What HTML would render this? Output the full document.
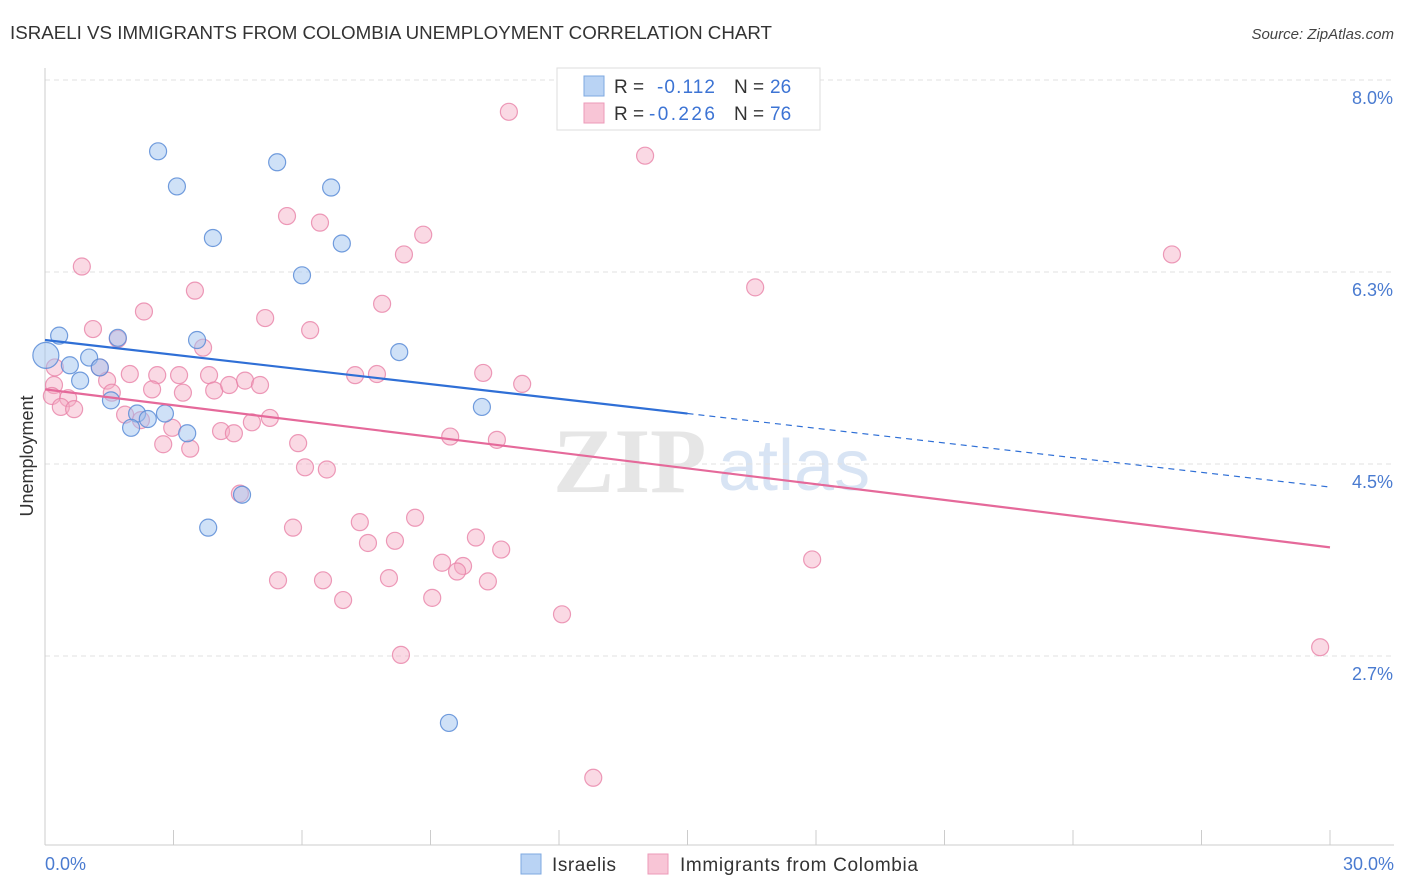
<!DOCTYPE html>
<html><head><meta charset="utf-8"><style>
body{margin:0;background:#fff;font-family:"Liberation Sans",sans-serif;}
svg{display:block}
</style></head><body>
<svg id="chart" width="1406" height="892" xmlns="http://www.w3.org/2000/svg">
<text x="10" y="39" font-size="18" fill="#333" textLength="762" lengthAdjust="spacingAndGlyphs">ISRAELI VS IMMIGRANTS FROM COLOMBIA UNEMPLOYMENT CORRELATION CHART</text>
<text x="1394" y="39" font-size="15" fill="#444" text-anchor="end" font-style="italic">Source: ZipAtlas.com</text>
<g><text x="553" y="492" font-size="92" fill="#e6e6e6" font-family="Liberation Serif,serif" font-weight="bold">ZIP</text><text x="718" y="490" font-size="72" fill="#d8e4f4">atlas</text></g>
<g id="grid"></g>
<line x1="45" y1="68" x2="45" y2="845" stroke="#ccc"/>
<line x1="45" y1="845" x2="1394" y2="845" stroke="#ccc"/>
<text transform="translate(33,456) rotate(-90)" font-size="18" fill="#333" text-anchor="middle">Unemployment</text>
<text x="45" y="870" font-size="18" fill="#4a7bd0">0.0%</text>
<text x="1394" y="870" font-size="18" fill="#4a7bd0" text-anchor="end">30.0%</text>
<g id="points"></g>
<g id="trends"></g>
<g>
<rect x="557" y="68" width="263" height="62" fill="#fff" stroke="#ddd"/>
<rect x="584" y="76" width="20" height="20" fill="#b9d3f4" stroke="#7ea8e0"/>
<text x="614" y="93" font-size="19" fill="#333">R = </text><text x="657" y="93" font-size="19" fill="#3d74d4" textLength="58">-0.112</text>
<text x="734" y="93" font-size="19" fill="#333">N = </text><text x="770" y="93" font-size="19" fill="#3d74d4">26</text>
<rect x="584" y="103" width="20" height="20" fill="#f8c5d6" stroke="#ec9ab8"/>
<text x="614" y="120" font-size="19" fill="#333">R = </text><text x="649" y="120" font-size="19" fill="#3d74d4" textLength="66">-0.226</text>
<text x="734" y="120" font-size="19" fill="#333">N = </text><text x="770" y="120" font-size="19" fill="#3d74d4">76</text>
</g>
<g>
<rect x="521" y="854" width="20" height="20" fill="#b9d3f4" stroke="#7ea8e0"/>
<text x="552" y="871" font-size="19" fill="#333" textLength="64">Israelis</text>
<rect x="648" y="854" width="20" height="20" fill="#f8c5d6" stroke="#ec9ab8"/>
<text x="680" y="871" font-size="19" fill="#333" textLength="238">Immigrants from Colombia</text>
</g>
</svg>
<script>
const yTicks = [8.0, 6.25, 4.5, 2.75];
const yTickLabels = ["8.0%", "6.3%", "4.5%", "2.7%"];
const xTicks = [0,3,6,9,12,15,18,21,24,27,30];
const blueX = [0.33,0.02,0.58,1.03,0.82,1.28,1.54,1.70,2.15,2.01,2.40,2.80,3.32,2.64,3.08,3.92,3.55,5.42,6.68,6.93,6.00,8.27,10.20,4.60,3.81,9.43];
const blueY = [5.67,5.49,5.40,5.47,5.26,5.38,5.08,5.65,4.96,4.83,4.91,4.96,4.78,7.35,7.03,6.56,5.63,7.25,7.02,6.51,6.22,5.52,5.02,4.22,3.92,2.14];
const pinkX = [10.83,14.01,5.65,6.42,8.83,8.38,0.86,3.50,2.31,7.87,5.14,6.19,1.12,1.70,3.69,0.23,1.28,1.98,2.62,3.13,3.83,7.24,7.75,10.23,0.21,1.45,2.50,3.22,3.95,4.30,4.67,5.02,11.14,0.16,0.54,1.56,0.37,0.68,1.87,2.24,2.97,4.11,4.41,4.83,5.25,2.76,3.39,5.91,9.46,10.55,6.07,6.58,4.55,5.79,7.35,8.64,7.54,8.17,10.06,10.65,9.27,9.76,9.62,5.44,6.49,8.03,10.34,6.96,9.04,12.07,17.91,26.31,16.58,8.31,29.77,12.80];
const pinkY = [7.71,7.31,6.76,6.70,6.59,6.41,6.30,6.08,5.89,5.96,5.83,5.72,5.73,5.64,5.56,5.38,5.38,5.32,5.31,5.31,5.31,5.31,5.32,5.33,5.22,5.26,5.18,5.15,5.17,5.22,5.26,5.22,5.23,5.12,5.10,5.15,5.02,5.00,4.95,4.90,4.83,4.80,4.78,4.88,4.92,4.68,4.64,4.69,4.75,4.72,4.47,4.45,4.23,3.92,3.97,4.01,3.78,3.80,3.83,3.72,3.60,3.57,3.52,3.44,3.44,3.46,3.43,3.26,3.28,3.13,3.63,6.41,6.11,2.76,2.83,1.64];
const blueTrend = [5.63, 4.29];
const pinkTrend = [5.18, 3.74];
const blueSolidEnd = 15;

const NS = "http://www.w3.org/2000/svg";
const xs = v => 45 + v / 30 * 1285;
const ys = v => 80 + (8.0 - v) * 192 / 1.75;
function mk(tag, attrs, parent) {
  const e = document.createElementNS(NS, tag);
  for (const k in attrs) e.setAttribute(k, attrs[k]);
  parent.appendChild(e);
  return e;
}
const grid = document.getElementById('grid');
yTicks.forEach((t, i) => {
  const g = mk('line', {x1: 45, x2: 1394, y1: ys(t), y2: ys(t), stroke: '#e2e2e2', 'stroke-dasharray': '5,4'}, grid);
  
  
  const l = mk('text', {x: 1393, y: ys(t) + 24, 'font-size': 18, fill: '#4a7bd0', 'text-anchor': 'end'}, grid);
  l.textContent = yTickLabels[i];
  
  
});
xTicks.forEach(t => {
  const k = mk('line', {x1: xs(t), x2: xs(t), y1: 830, y2: 845, stroke: '#ccc'}, grid);
  
  
});
const pts = document.getElementById('points');
pinkX.forEach((x, i) => {
  const c = mk('circle', {cx: xs(x), cy: ys(pinkY[i]), r: 8.5, fill: 'rgba(244,170,196,0.45)', stroke: 'rgba(232,130,168,0.8)', 'stroke-width': 1.2}, pts);
  
  
});
blueX.forEach((x, i) => {
  const c = mk('circle', {cx: xs(x), cy: ys(blueY[i]), r: i === 1 ? 13 : 8.5, fill: 'rgba(160,196,240,0.5)', stroke: 'rgba(90,140,215,0.85)', 'stroke-width': 1.2}, pts);
  
  
});
const tr = document.getElementById('trends');
const bAt = x => blueTrend[0] + (blueTrend[1] - blueTrend[0]) * x / 30;
const t1 = mk('line', {x1: xs(0), y1: ys(blueTrend[0]), x2: xs(blueSolidEnd), y2: ys(bAt(blueSolidEnd)), stroke: '#2f6fd6', 'stroke-width': 2.2}, tr);


const t2 = mk('line', {x1: xs(blueSolidEnd), y1: ys(bAt(blueSolidEnd)), x2: xs(30), y2: ys(blueTrend[1]), stroke: '#2f6fd6', 'stroke-width': 1.2, 'stroke-dasharray': '6,5'}, tr);


const t3 = mk('line', {x1: xs(0), y1: ys(pinkTrend[0]), x2: xs(30), y2: ys(pinkTrend[1]), stroke: '#e5699a', 'stroke-width': 2.2}, tr);


</script>
</body></html>
